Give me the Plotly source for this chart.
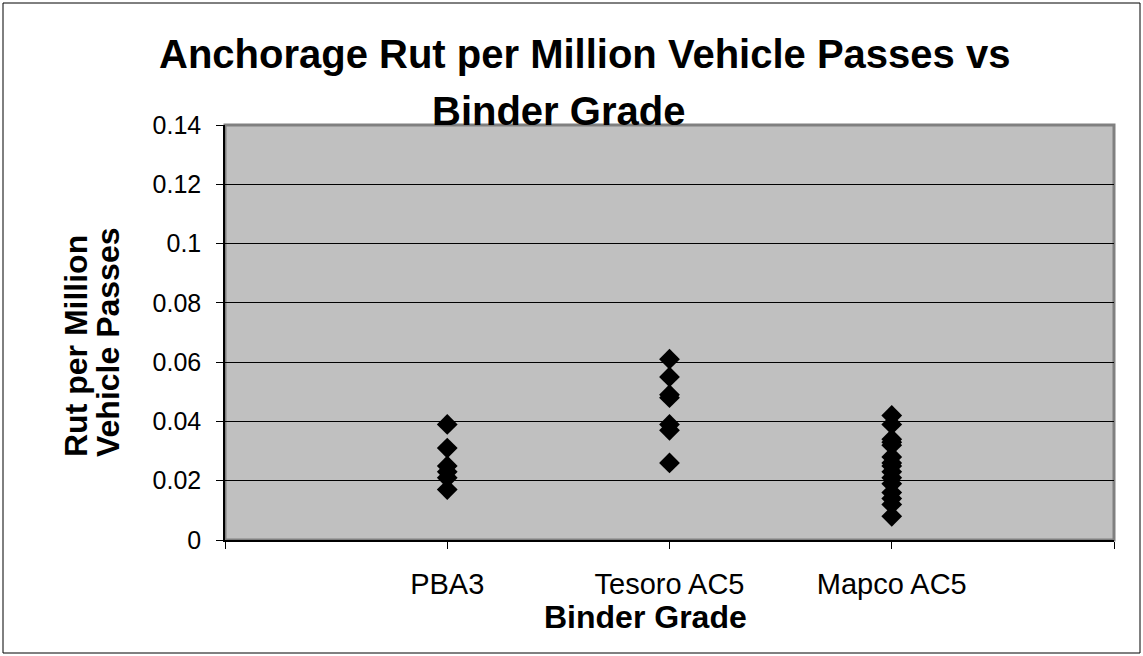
import plotly.graph_objects as go

categories = ["PBA3", "Tesoro AC5", "Mapco AC5"]
pba3 = [0.039, 0.031, 0.025, 0.023, 0.021, 0.017]
tesoro = [0.061, 0.055, 0.049, 0.048, 0.039, 0.037, 0.026]
mapco = [0.042, 0.039, 0.034, 0.033, 0.032, 0.028, 0.026, 0.025,
         0.023, 0.021, 0.019, 0.016, 0.014, 0.012, 0.008]
series = [pba3, tesoro, mapco]

title_line1 = "Anchorage Rut per Million Vehicle Passes vs"
title_line2 = "Binder Grade"
y_title1 = "Rut per Million"
y_title2 = "Vehicle Passes"
x_title = "Binder Grade"

W, H = 1143, 656
L, R, T, B = 225, 29, 125, 116
PW, PH = W - L - R, H - T - B


def px(x):
    return (x - L) / PW


def py(y):
    return (H - B - y) / PH


xs, ys = [], []
for i, vals in enumerate(series):
    xs += [i + 1] * len(vals)
    ys += vals

fig = go.Figure()
fig.add_trace(go.Scatter(
    x=xs, y=ys, mode="markers",
    marker=dict(symbol="diamond", size=16, color="#000000",
                line=dict(width=0)),
    showlegend=False, cliponaxis=False,
))

font = "Arial, Liberation Sans, sans-serif"

fig.update_layout(
    width=W, height=H,
    margin=dict(l=L, r=R, t=T, b=B),
    paper_bgcolor="white",
    plot_bgcolor="#C0C0C0",
    font=dict(family=font, color="black"),
    xaxis=dict(
        range=[0, 4],
        tickvals=[0, 1, 2, 3, 4],
        ticktext=[""] + categories + [""],
        ticks="outside", ticklen=7, tickcolor="black", tickwidth=1,
        showline=True, linecolor="black", linewidth=1.5,
        showgrid=False, zeroline=False,
        tickfont=dict(size=29, family=font, color="black"),
        ticklabelstandoff=10,
    ),
    yaxis=dict(
        range=[0, 0.14], dtick=0.02, tick0=0,
        tickformat="~g",
        ticks="outside", ticklen=7, tickcolor="black", tickwidth=1,
        showline=True, linecolor="black", linewidth=1.5,
        showgrid=True, gridcolor="black", gridwidth=1,
        zeroline=False,
        tickfont=dict(size=25, family=font, color="black"),
        ticklabelstandoff=10,
    ),
    shapes=[
        dict(type="rect", xref="paper", yref="paper", x0=0, x1=1, y0=0, y1=1,
             line=dict(color="#808080", width=3), layer="below"),
        dict(type="rect", xref="paper", yref="paper",
             x0=px(3), x1=px(1140), y0=py(653), y1=py(3),
             line=dict(color="black", width=1), layer="above"),
    ],
    annotations=[
        dict(text="<b>%s</b>" % title_line1, xref="paper", yref="paper",
             x=px(584), y=py(54), xanchor="center", yanchor="middle",
             showarrow=False, font=dict(size=40, family=font, color="black")),
        dict(text="<b>%s</b>" % title_line2, xref="paper", yref="paper",
             x=px(558), y=py(111), xanchor="center", yanchor="middle",
             showarrow=False, font=dict(size=40, family=font, color="black")),
        dict(text="<b>%s</b>" % y_title1, xref="paper", yref="paper",
             x=px(76), y=py(346), xanchor="center", yanchor="middle",
             textangle=-90, showarrow=False,
             font=dict(size=32, family=font, color="black")),
        dict(text="<b>%s</b>" % y_title2, xref="paper", yref="paper",
             x=px(108), y=py(342), xanchor="center", yanchor="middle",
             textangle=-90, showarrow=False,
             font=dict(size=32, family=font, color="black")),
        dict(text="<b>%s</b>" % x_title, xref="paper", yref="paper",
             x=px(645), y=py(617), xanchor="center", yanchor="middle",
             showarrow=False, font=dict(size=32, family=font, color="black")),
    ],
)

fig.write_html("out.html", config={"displayModeBar": False},
               post_script="document.body.style.margin='0px';")
